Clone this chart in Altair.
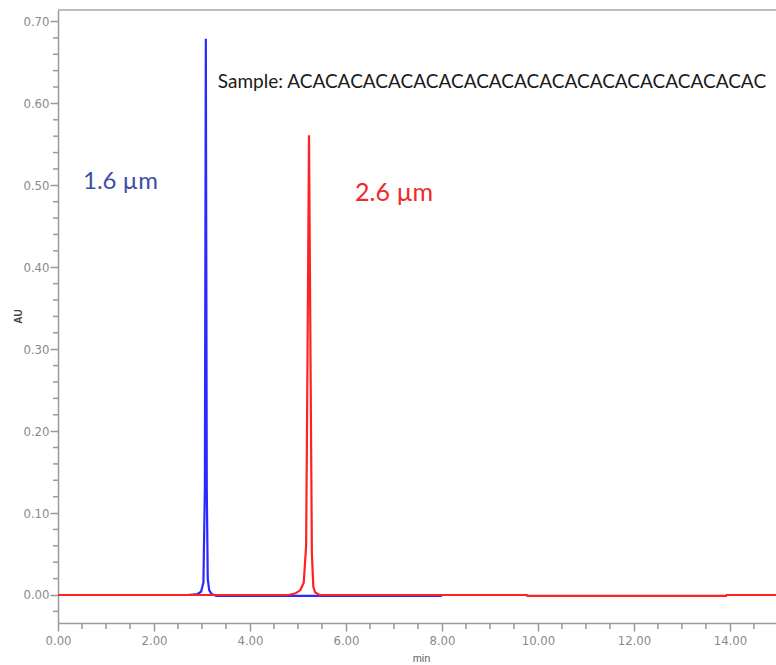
import altair as alt
import pandas as pd

# ---- data ----
blue_min = [0.00, 2.70, 2.90, 2.98, 3.03, 3.06, 3.08, 3.10, 3.12, 3.15, 3.20, 3.30, 8.00]
blue_au = [0.000, 0.000, 0.001, 0.004, 0.015, 0.13, 0.679, 0.13, 0.02, 0.006, 0.001, -0.001, -0.001]

red_min = [0.00, 4.80, 4.95, 5.05, 5.12, 5.17, 5.20, 5.23, 5.26, 5.29, 5.32, 5.36, 5.45,
           9.77, 9.78, 13.92, 13.93, 14.96]
red_au = [0.000, 0.000, 0.002, 0.006, 0.015, 0.06, 0.30, 0.561, 0.30, 0.05, 0.010, 0.003, 0.000,
          0.000, -0.0012, -0.0012, 0.000, 0.000]

y_major = [0.0, 0.1, 0.2, 0.3, 0.4, 0.5, 0.6, 0.7]
y_minor = [-0.02, 0.02, 0.04, 0.06, 0.08, 0.12, 0.14, 0.16, 0.18, 0.22, 0.24, 0.26, 0.28,
           0.32, 0.34, 0.36, 0.38, 0.42, 0.44, 0.46, 0.48, 0.52, 0.54, 0.56, 0.58,
           0.62, 0.64, 0.66, 0.68]
x_major = [0, 2, 4, 6, 8, 10, 12, 14]
x_minor = [0.5, 1.0, 1.5, 2.5, 3.0, 3.5, 4.5, 5.0, 5.5, 6.5, 7.0, 7.5, 8.5, 9.0, 9.5,
           10.5, 11.0, 11.5, 12.5, 13.0, 13.5, 14.5]

labels_text = ["1.6 µm", "2.6 µm", "Sample: ACACACACACACACACACACACACACACACACACACAC"]
labels_min = [0.52, 6.19, 3.33]
labels_au = [0.504, 0.491, 0.626]

X_DOMAIN = [0, 14.96]
Y_DOMAIN = [-0.0342, 0.714]

blue_df = pd.DataFrame({"t": blue_min, "au": blue_au})
red_df = pd.DataFrame({"t": red_min, "au": red_au})

AXIS_GRAY = "#9a9a9a"
LABEL_FONT = "Liberation Sans Narrow, DejaVu Sans Condensed, sans-serif"

xscale = alt.Scale(domain=X_DOMAIN, nice=False, zero=False)
yscale = alt.Scale(domain=Y_DOMAIN, nice=False, zero=False)

xaxis = alt.Axis(values=x_major, format=".2f", title="min", grid=False,
                 tickSize=8, tickColor=AXIS_GRAY, tickWidth=1.5,
                 domainColor=AXIS_GRAY, domainWidth=1.5,
                 labelFont=LABEL_FONT, labelFontSize=13, labelColor="#8a8a8a",
                 labelPadding=3, labelFlush=False,
                 titleFont="Liberation Sans, Arial, sans-serif", titleFontSize=11,
                 titleFontWeight="normal", titleColor="#666666",
                 titleBaseline="middle", titleX=363, titleY=35)
yaxis = alt.Axis(values=y_major, format=".2f", title="AU", grid=False,
                 tickSize=8, tickColor=AXIS_GRAY, tickWidth=1.5,
                 domainColor=AXIS_GRAY, domainWidth=1.5,
                 labelFont=LABEL_FONT, labelFontSize=13, labelColor="#8a8a8a",
                 labelPadding=1, labelFlush=False,
                 titleFont="Liberation Sans, Arial, sans-serif", titleFontSize=10,
                 titleFontWeight="bold", titleColor="#444444",
                 titleAngle=270, titleAlign="center", titleBaseline="middle",
                 titleX=-40, titleY=306)

blue_line = alt.Chart(blue_df).mark_line(color="#2a2aff", strokeWidth=2.2).encode(
    x=alt.X("t:Q", scale=xscale, axis=xaxis),
    y=alt.Y("au:Q", scale=yscale, axis=yaxis),
)
red_line = alt.Chart(red_df).mark_line(color="#ff2222", strokeWidth=2.2).encode(
    x=alt.X("t:Q", scale=xscale),
    y=alt.Y("au:Q", scale=yscale),
)

ymin_df = pd.DataFrame({"v": y_minor})
xmin_df = pd.DataFrame({"v": x_minor})
y_minor_ticks = alt.Chart(ymin_df).mark_rule(color=AXIS_GRAY, strokeWidth=1.5).encode(
    y=alt.Y("v:Q", scale=yscale), x=alt.value(-5), x2=alt.value(0))
x_minor_ticks = alt.Chart(xmin_df).mark_rule(color=AXIS_GRAY, strokeWidth=1.5).encode(
    x=alt.X("v:Q", scale=xscale), y=alt.value(613), y2=alt.value(619))

top_frame = alt.Chart(pd.DataFrame({"a": [0]})).mark_rule(color="#a8a8a8", strokeWidth=1.5).encode(
    x=alt.value(0), x2=alt.value(720), y=alt.value(0))

lab_df = pd.DataFrame({"txt": labels_text, "t": labels_min, "au": labels_au,
                       "k": ["a", "b", "c"]})
label_colors = ["#3d4fa3", "#ee2a2a", "#1a1a1a"]
label_sizes = [24, 25, 19]
texts = []
for i in range(3):
    texts.append(
        alt.Chart(lab_df.iloc[[i]]).mark_text(
            align="left", baseline="middle", font="Lato, Open Sans, sans-serif",
            fontSize=label_sizes[i], color=label_colors[i]
        ).encode(x=alt.X("t:Q", scale=xscale), y=alt.Y("au:Q", scale=yscale), text="txt:N")
    )

chart = alt.layer(
    y_minor_ticks, x_minor_ticks, top_frame, blue_line, red_line, *texts
).properties(
    width=718, height=613,
    autosize=alt.AutoSizeParams(type="none"),
    padding={"left": 58, "top": 10, "right": 0, "bottom": 42},
    background="white",
).configure_view(strokeWidth=0)

chart.save("out.html", embed_options={"renderer": "svg", "actions": False})
